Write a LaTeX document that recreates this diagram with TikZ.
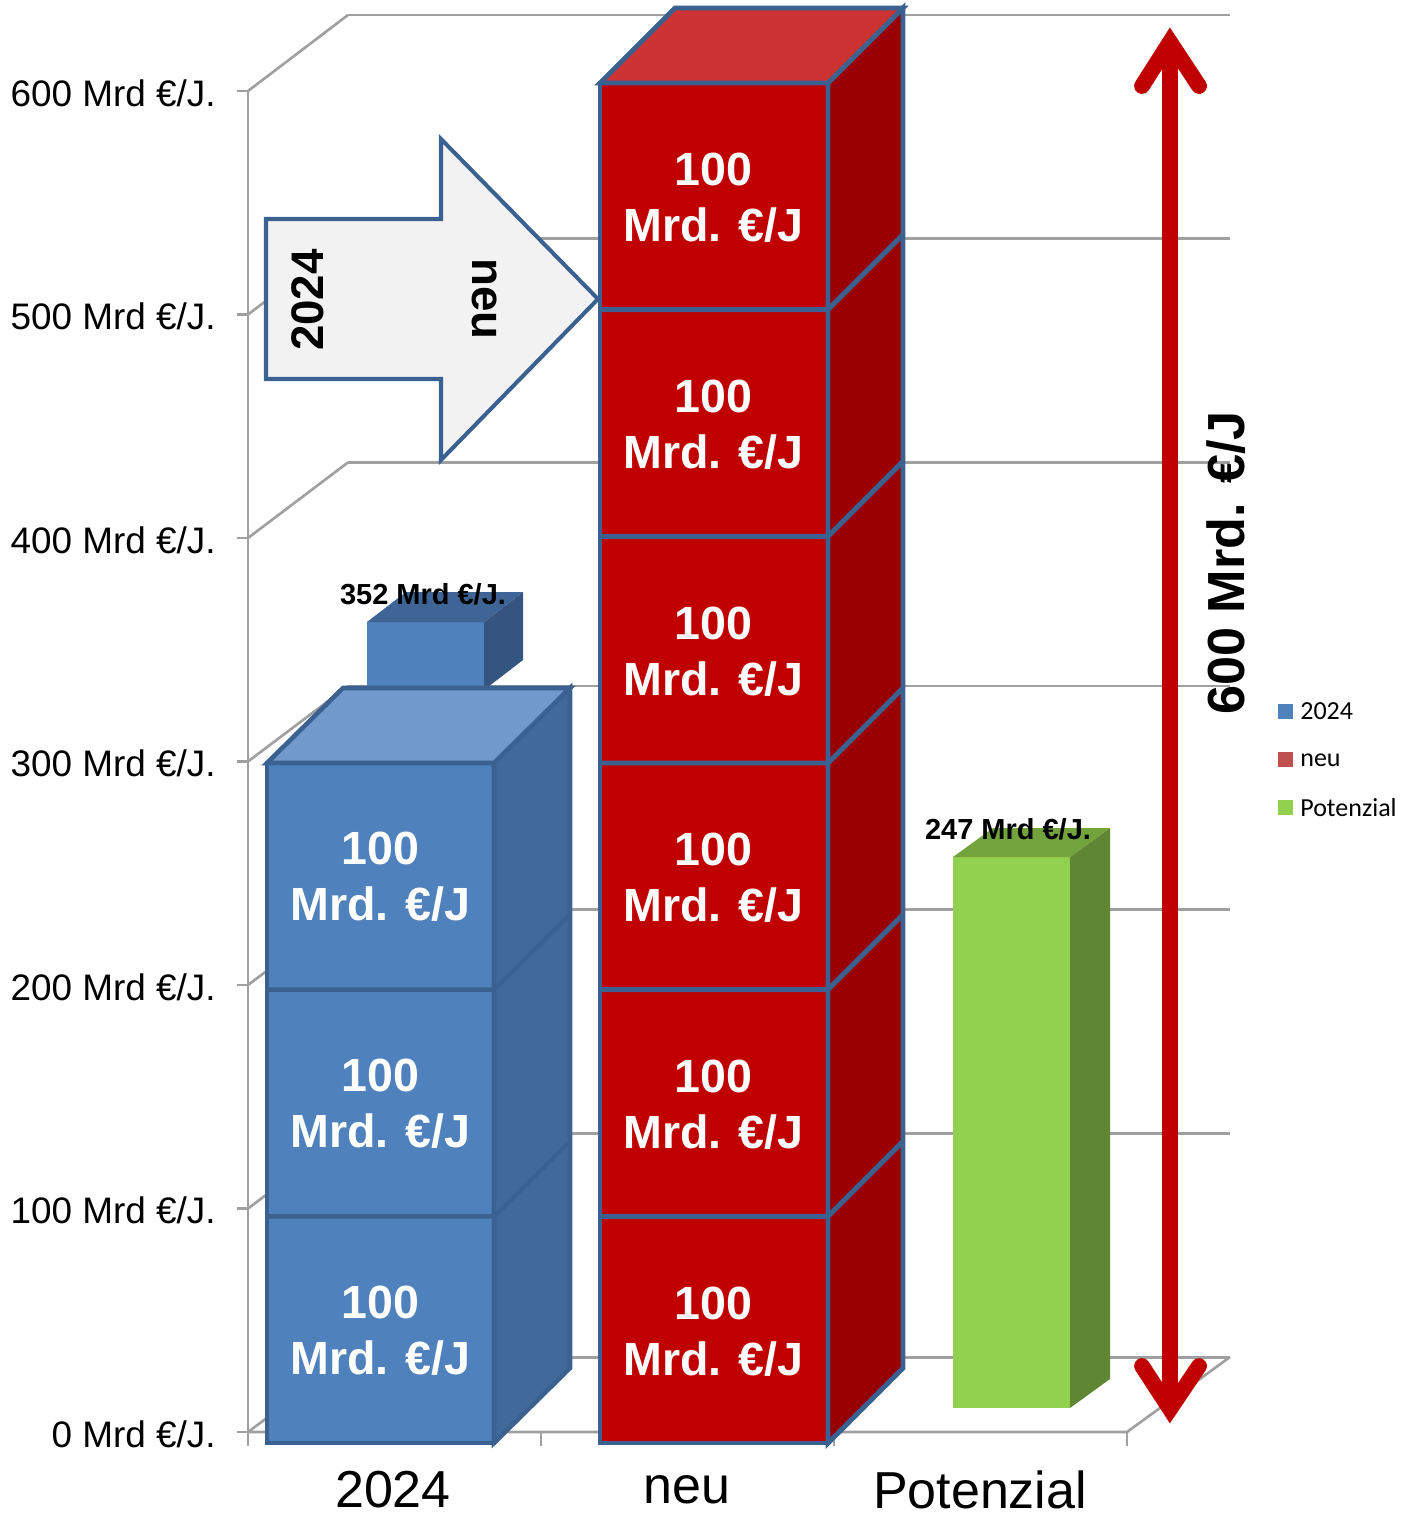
\documentclass[tikz,border=0pt]{standalone}
\usepackage{fontspec}
\setmainfont{Liberation Sans}
\newfontfamily\legendfont{Carlito}
\usetikzlibrary{calc}

\definecolor{blueFront}{HTML}{4F81BD}
\definecolor{blueSide}{HTML}{41699A}
\definecolor{blueTop}{HTML}{7299CB}
\definecolor{blueLine}{HTML}{3B6191}
\definecolor{capSide}{HTML}{345580}
\definecolor{capTop}{HTML}{3E6595}
\definecolor{redFront}{HTML}{C00000}
\definecolor{redSide}{HTML}{990000}
\definecolor{redTop}{HTML}{CC3333}
\definecolor{greenFront}{HTML}{92D050}
\definecolor{greenSide}{HTML}{5F8632}
\definecolor{greenTop}{HTML}{73A33C}
\definecolor{gridGray}{HTML}{A0A0A0}
\definecolor{legendRed}{HTML}{C0504D}
\definecolor{arrowFill}{HTML}{F2F2F2}
\definecolor{arrowRed}{HTML}{C00000}

% front face from (#1,#2) to (#3,#4), depth (#5,#6), face styles #7 #8 #9
\newcommand{\cuboid}[9]{%
  \path[#7] (#1,#2) rectangle (#3,#4);
  \path[#8] (#3,#4) -- (#3,#2) -- ++(#5,#6) -- ++(0,{#4-#2}) -- cycle;
  \path[#9] (#1,#2) -- ++(#5,#6) -- ++({#3-#1},0) -- (#3,#2) -- cycle;
}

\begin{document}
\begin{tikzpicture}[
    x=0.02cm, y=-0.02cm,
    grid/.style={draw=gridGray, line width=1.5pt},
    bluebox/.style={draw=blueLine, line width=2.6pt, line join=miter},
    redbox/.style={draw=blueLine, line width=2.8pt, line join=miter, miter limit=3},
    blocktext/.style={text=white, align=center,
        font=\fontsize{26.5}{31.8}\selectfont\bfseries},
    ticklabel/.style={anchor=east, inner sep=0pt,
        font=\fontsize{21}{25}\selectfont},
    catlabel/.style={inner sep=0pt, font=\fontsize{29.6}{35}\selectfont},
    valuelabel/.style={inner sep=0pt, font=\fontsize{16.5}{20}\selectfont\bfseries},
    arrowtext/.style={inner sep=0pt, font=\fontsize{26}{31}\selectfont\bfseries},
    legendbox/.style={minimum size=8.5pt, inner sep=0pt},
    legendtext/.style={anchor=west, inner sep=0pt,
        font=\legendfont\fontsize{14.8}{18}\selectfont}
]
    \useasboundingbox (0,0) rectangle (1416,1517);

    % Grid: back wall, left wall, floor
    \foreach \k in {0,...,6} {
        \pgfmathsetmacro{\yf}{91+\k*223.5}
        \pgfmathsetmacro{\yb}{15+\k*223.7}
        \draw[grid] (348,\yb) -- (1230,\yb);
        \draw[grid] (248,\yf) -- (348,\yb);
        \draw[grid] (237,\yf) -- (248,\yf);
    }
    \draw[grid] (248,91) -- (248,1446);
    \draw[grid] (248,1432) -- (1127,1432) -- (1230,1357);
    \foreach \x in {541,834,1127}
        \draw[grid] (\x,1432) -- (\x,1446);

    % Tick labels
    \foreach \v [count=\k from 0] in {600,500,400,300,200,100,0}
        \node[ticklabel] (tick\v) at (216,{93+\k*223.5}) {\v{} Mrd €/J.};

    % 2024 bar with cap
    \cuboid{367}{622}{484}{690}{39}{-30}{fill=blueFront}{fill=capSide}{fill=capTop}
    \cuboid{267}{763}{494}{1443}{76}{-75}{bluebox, fill=blueFront}{bluebox, fill=blueSide}{bluebox, fill=blueTop}
    \foreach \i in {1,2} {
        \draw[bluebox] (267,{763+\i*226.7}) -- (494,{763+\i*226.7}) -- ++(76,-75);
    }
    \foreach \i in {0,1,2}
        \node[blocktext] (blue\i) at (380.5,{877+\i*226.7}) {100\\Mrd. €/J};
    \node[valuelabel] (val2024) at (423,594) {352 Mrd €/J.};

    % Potenzial bar
    \cuboid{953}{857}{1070}{1408}{40}{-29}{fill=greenFront}{fill=greenSide}{fill=greenTop}
    \node[valuelabel] (valPot) at (1008,829) {247 Mrd €/J.};

    % neu bar
    \cuboid{600}{83}{828}{1443}{75}{-75}{redbox, fill=redFront}{redbox, fill=redSide}{redbox, fill=redTop}
    \foreach \i in {1,...,5} {
        \draw[redbox] (600,{83+\i*226.67}) -- (828,{83+\i*226.67}) -- ++(75,-75);
    }
    \foreach \i in {0,...,5}
        \node[blocktext] (red\i) at (713.5,{198+\i*226.67}) {100\\Mrd. €/J};

    % Block arrow 2024 -> neu
    \filldraw[fill=arrowFill, draw=blueLine, line width=2.3pt, line join=miter]
        (266,219) -- (441,219) -- (441,139) -- (598,299) -- (441,460)
        -- (441,379) -- (266,379) -- cycle;
    \node[arrowtext, rotate=90] (from) at (308,300) {2024};
    \node[arrowtext, rotate=-90] (to) at (485,299) {neu};

    % Double arrow 600 Mrd.
    \coordinate (top) at (1170,42);
    \coordinate (bottom) at (1170,1409);
    \draw[arrowRed, line width=9pt] (top) -- (bottom);
    \draw[arrowRed, line width=9pt, line cap=round, line join=miter]
        (1142,86) -- (top) -- (1199,86);
    \draw[arrowRed, line width=9pt, line cap=round, line join=miter]
        (1142,1366) -- (bottom) -- (1199,1366);
    \node[inner sep=0pt, rotate=90, font=\fontsize{29.7}{35}\selectfont\bfseries]
        (total) at (1226,563) {600 Mrd. €/J};

    % Category labels
    \node[catlabel] (cat2024) at (393,1490) {2024};
    \node[catlabel] (catNeu) at (687,1490) {neu};
    \node[catlabel] (catPot) at (980,1490) {Potenzial};

    % Legend
    \node[legendbox, fill=blueFront] (leg1) at (1285.5,711.5) {};
    \node[legendbox, fill=legendRed] (leg2) at (1285.5,759.5) {};
    \node[legendbox, fill=greenFront] (leg3) at (1285.5,807.5) {};
    \node[legendtext] at (1300,711.5) {2024};
    \node[legendtext] at (1300,760.5) {neu};
    \node[legendtext] at (1300,807.5) {Potenzial};
\end{tikzpicture}
\end{document}
